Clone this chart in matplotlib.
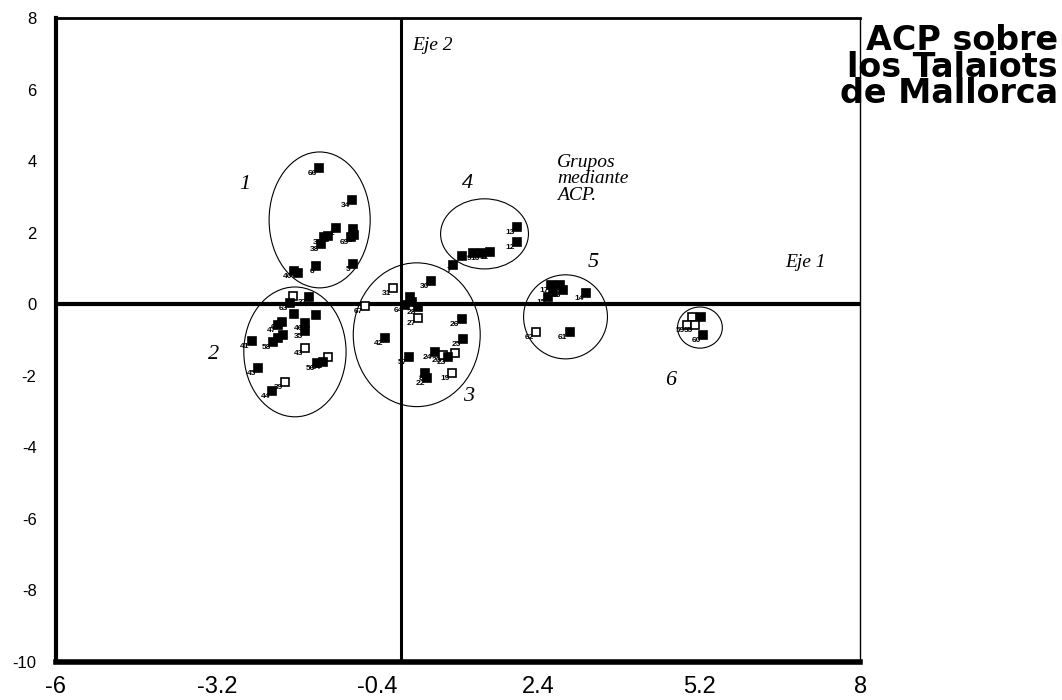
import matplotlib
matplotlib.use("Agg")
import matplotlib.pyplot as plt
from matplotlib.patches import Ellipse

# Puntuaciones de los talaiots sobre los dos primeros ejes del ACP
eje1 = [-1.42, -0.84, -1.12, -0.83, -0.81, -0.86, -1.33, -1.26, -1.38, -1.47, -1.85, -1.78, -0.83,
        -1.87, -1.59, -1.92, -1.85, -1.47, -1.66, -1.66, -2.06, -2.13, -2.05, -2.13, -2.22, -2.59,
        -1.66, -1.26, -1.35, -1.45, -2.48, -2.01, -2.24,
        -0.13, 0.53, -0.62, 0.17, 0.20, 0.08, 0.31, 0.31, 1.06, -0.27, 1.09, 0.95, 0.59, 0.74,
        0.83, 0.15, 0.43, 0.46, 0.90,
        2.03, 2.03, 1.56, 1.42, 1.26, 1.07, 0.92,
        2.61, 2.78, 2.82, 2.66, 2.57, 3.22, 2.36, 2.94,
        5.08, 5.22, 4.98, 5.13, 5.27]
eje2 = [3.81, 2.92, 2.13, 2.11, 1.94, 1.88, 1.88, 1.91, 1.69, 1.07, 0.93, 0.88, 1.13,
        0.23, 0.21, 0.04, -0.27, -0.30, -0.52, -0.74, -0.49, -0.58, -0.85, -0.94, -1.05, -1.02,
        -1.22, -1.47, -1.61, -1.64, -1.78, -2.17, -2.42,
        0.46, 0.65, -0.04, 0.21, 0.07, -0.02, -0.07, -0.38, -0.41, -0.94, -0.97, -1.36, -1.33, -1.41,
        -1.47, -1.47, -1.92, -2.06, -1.92,
        2.16, 1.74, 1.46, 1.44, 1.44, 1.35, 1.10,
        0.54, 0.54, 0.40, 0.35, 0.21, 0.32, -0.77, -0.77,
        -0.35, -0.35, -0.58, -0.58, -0.85]
# True = cuadrado relleno, False = cuadrado vacío
relleno = [True] * 13 + \
          [False, True, True, True, True, True, True, True, True, True, True, True, True,
           False, False, True, True, True, False, True] + \
          [False, True, False, True, True, True, True, False, True, True, True, False, True, False,
           True, True, True, True, False] + \
          [True] * 7 + \
          [True, True, True, True, True, True, False, True] + \
          [False, True, False, False, True]
etiquetas = ["66", "34", "2", "", "1", "69", "32", "", "38", "6", "40", "", "5",
             "", "37", "63", "", "", "46", "35", "65", "47", "48", "", "58", "41",
             "43", "", "54", "56", "45", "39", "44",
             "31", "30", "67", "", "", "64", "28", "27", "26", "42", "25", "21", "24", "20",
             "23", "57", "8", "22", "19",
             "13", "12", "11", "10", "9", "", "7",
             "17", "", "16", "18", "15", "14", "62", "61",
             "", "", "59", "55", "60"]

# Grupos (elipses) obtenidos mediante ACP
grupo_num = ["1", "2", "3", "4", "5", "6"]
grupo_cx = [-1.41, -1.84, 0.28, 1.46, 2.87, 5.21]
grupo_cy = [2.36, -1.33, -0.85, 1.97, -0.35, -0.65]
grupo_w = [1.76, 1.78, 2.21, 1.53, 1.46, 0.78]
grupo_h = [3.80, 3.63, 4.02, 1.96, 2.35, 1.15]
grupo_tx = [-2.71, -3.26, 1.18, 1.16, 3.36, 4.70]
grupo_ty = [3.34, -1.41, -2.59, 3.39, 1.16, -2.14]

xticks = [-6, -3.2, -0.4, 2.4, 5.2, 8]
xticklabels = ["-6", "-3.2", "-0.4", "2.4", "5.2", "8"]
yticks = [-10, -8, -6, -4, -2, 0, 2, 4, 6, 8]

fig = plt.figure(figsize=(10.62, 7.0), dpi=100)
ax = fig.add_axes([0.0527, 0.0543, 0.7573, 0.9197])
ax.set_xlim(-6, 8)
ax.set_ylim(-10, 8)

# ejes del plano factorial
ax.axhline(0, color="black", lw=3, zorder=1)
ax.axvline(0, color="black", lw=2.2, zorder=1)

for x, y, r, et in zip(eje1, eje2, relleno, etiquetas):
    ax.plot(x, y, marker="s", ms=5.5, mfc="black" if r else "white",
            mec="black", mew=1.2, ls="none", zorder=3)
    if et:
        ax.annotate(et, (x, y), xytext=(-1.5, -1.5), textcoords="offset points",
                    ha="right", va="top", fontsize=6, fontweight="bold",
                    family="Liberation Sans", zorder=4)

for cx, cy, w, h, n, tx, ty in zip(grupo_cx, grupo_cy, grupo_w, grupo_h,
                                   grupo_num, grupo_tx, grupo_ty):
    ax.add_patch(Ellipse((cx, cy), w, h, fill=False, ec="black", lw=0.8, zorder=2))
    ax.text(tx, ty, n, fontsize=16, style="italic", family="Liberation Serif",
            ha="center", va="center")

serif = dict(style="italic", family="Liberation Serif", fontsize=14)
ax.text(0.2, 7.25, "Eje 2", ha="left", va="center", **serif)
ax.text(6.70, 1.16, "Eje 1", ha="left", va="center", **serif)
ax.text(2.72, 4.2, "Grupos\nmediante\nACP.", ha="left", va="top",
        linespacing=0.95, **serif)

ax.set_xticks(xticks)
ax.set_xticklabels(xticklabels, fontsize=17, family="Liberation Sans")
ax.set_yticks(yticks)
ax.set_yticklabels([str(v) for v in yticks], fontsize=12, family="Liberation Sans")
ax.tick_params(length=0)
ax.tick_params(axis="x", pad=10)
ax.tick_params(axis="y", pad=14)

ax.spines["left"].set_linewidth(3)
ax.spines["bottom"].set_linewidth(4)
ax.spines["top"].set_linewidth(2)
ax.spines["right"].set_linewidth(1)

fig.text(0.996, 0.965, "ACP sobre\nlos Talaiots\nde Mallorca", ha="right", va="top",
         fontsize=24, fontweight="bold", family="DejaVu Sans", linespacing=0.74,
         multialignment="right")

fig.savefig("out.png", dpi=100)
